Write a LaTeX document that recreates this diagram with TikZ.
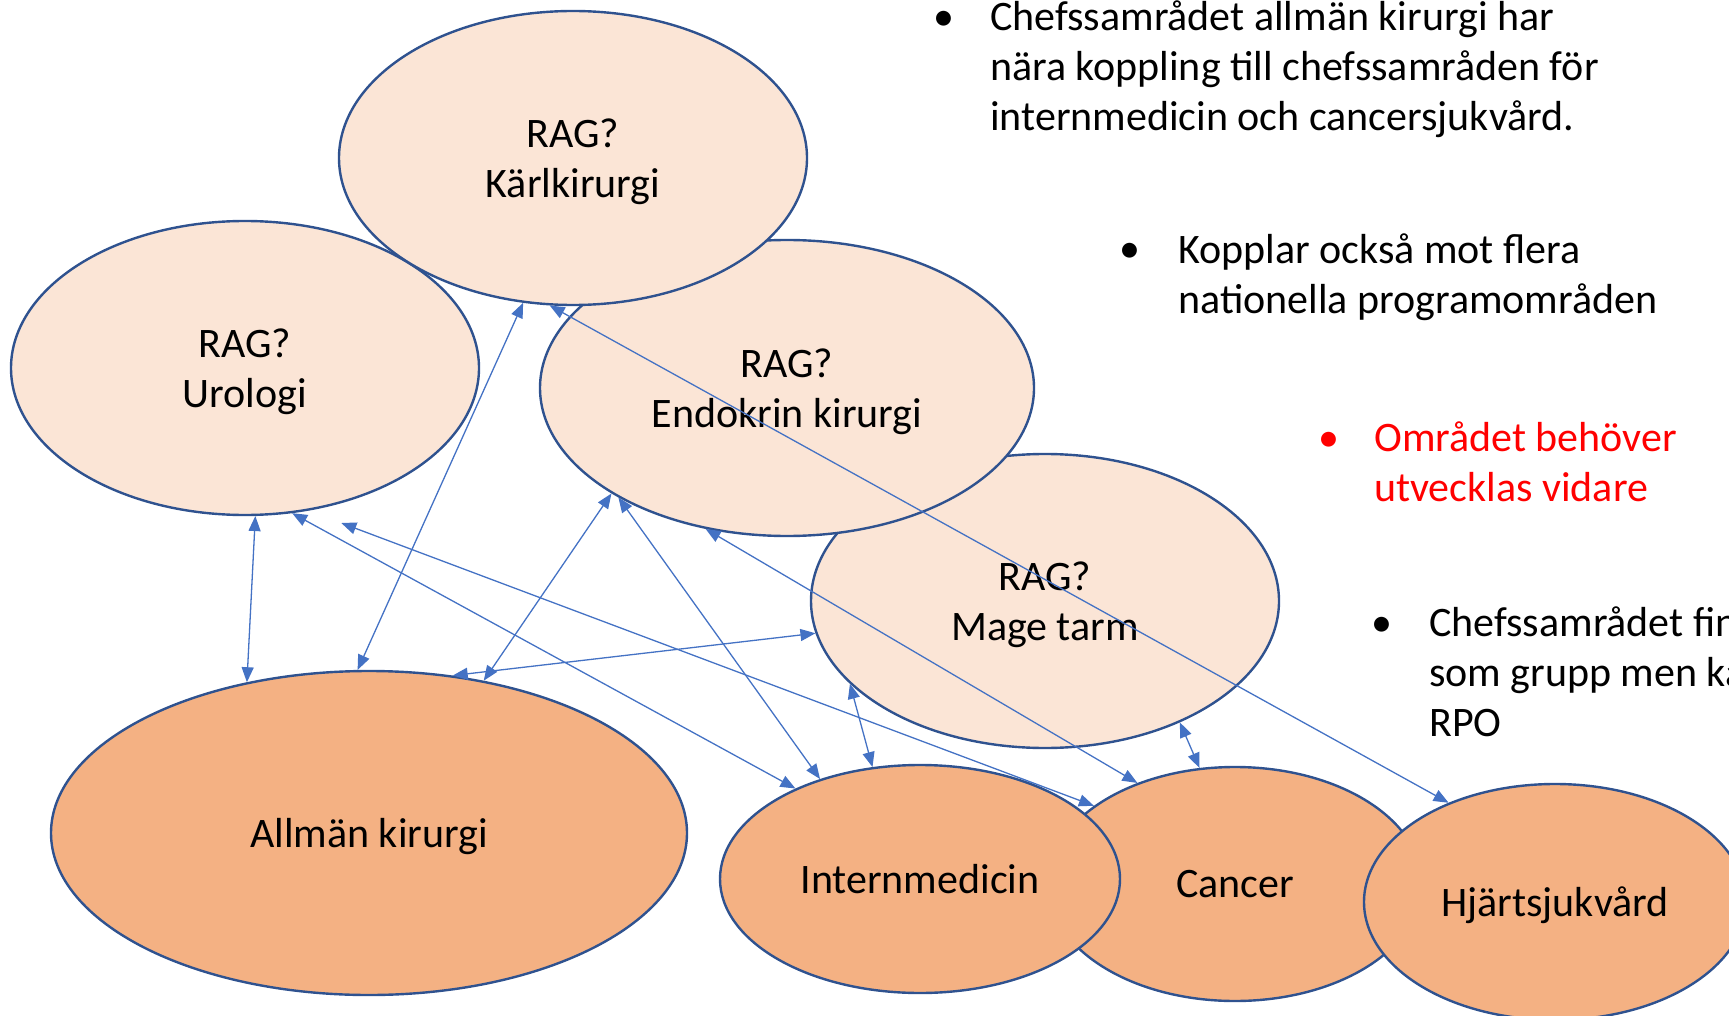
\documentclass[tikz,border=0pt]{standalone}
\usepackage{fontspec}
\setmainfont{Carlito}
\usetikzlibrary{shapes.geometric,arrows.meta}
\definecolor{lightfill}{HTML}{FBE5D6}
\definecolor{darkfill}{HTML}{F4B183}
\definecolor{outl}{HTML}{2F528F}
\definecolor{arrc}{HTML}{4472C4}
\begin{document}
\begin{tikzpicture}[x=1pt,y=-1pt,
  every node/.style={font=\fontsize{42}{50}\selectfont, inner sep=0pt},
  oval/.style={ellipse, draw=outl, line width=2.4pt, align=center, text depth=0pt},
  ragoval/.style={oval, fill=lightfill},
  areaoval/.style={oval, fill=darkfill},
  conn/.style={draw=arrc, line width=1.3pt, {Triangle[length=15pt,width=12pt]}-{Triangle[length=15pt,width=12pt]}},
  bul/.style={anchor=base},
  btext/.style={anchor=base west, align=left}]
\useasboundingbox (0,0) rectangle (1729,1016);
\clip (0,0) rectangle (1729,1016);
% ellipses (drawing order matters)
\node[ragoval, minimum width=468pt, minimum height=294pt] (mage) at (1045,601) {RAG?\\Mage tarm};
\node[areaoval, minimum width=374pt, minimum height=234pt] (cancer) at (1235,884) {Cancer};
\node[ragoval, minimum width=494pt, minimum height=296pt] (endo) at (787,388) {RAG?\\Endokrin kirurgi};
\node[ragoval, minimum width=468pt, minimum height=294pt] (uro) at (245,368) {RAG?\\Urologi};
\node[ragoval, minimum width=468pt, minimum height=294pt] (kar) at (573,158) {RAG?\\Kärlkirurgi};
\node[areaoval, minimum width=636pt, minimum height=324pt] (allm) at (369,833) {Allmän kirurgi};
\node[areaoval, minimum width=400pt, minimum height=228pt] (intern) at (920,879) {Internmedicin};
\node[areaoval, minimum width=382pt, minimum height=236pt] (hjart) at (1555,902) {Hjärtsjukvård};
% connectors
\draw[conn] (kar.251) -- (allm.94);
\draw[conn] (kar.261) -- (hjart.137);
\draw[conn] (uro.274) -- (allm.129);
\draw[conn] (uro.288) -- (intern.144);
\draw[conn, shorten <=35pt] (uro.294) -- (cancer.151);
\draw[conn] (endo.211) -- (allm.53);
\draw[conn] (endo.213) -- (intern.135);
\draw[conn] (endo.240) -- (cancer.134);
\draw[conn] (mage.188) -- (allm.62);
\draw[conn] (mage.203) -- (intern.113);
\draw[conn] (mage.318) -- (cancer.107);
% bullet texts
\node[bul] (b1) at (944,31) {•};
\node[btext] (t1) at (990,131) {Chefssamrådet allmän kirurgi har\\nära koppling till chefssamråden för\\internmedicin och cancersjukvård.};
\node[bul] (b2) at (1130,263) {•};
\node[btext] (t2) at (1178,313) {Kopplar också mot flera\\nationella programområden};
\node[bul, text=red] (b3) at (1329,451) {•};
\node[btext, text=red] (t3) at (1374,501) {Området behöver\\utvecklas vidare};
\node[bul] (b4) at (1382,636) {•};
\node[btext] (t4) at (1429,736) {Chefssamrådet finns\\som grupp men kan\\RPO};
\end{tikzpicture}
\end{document}
